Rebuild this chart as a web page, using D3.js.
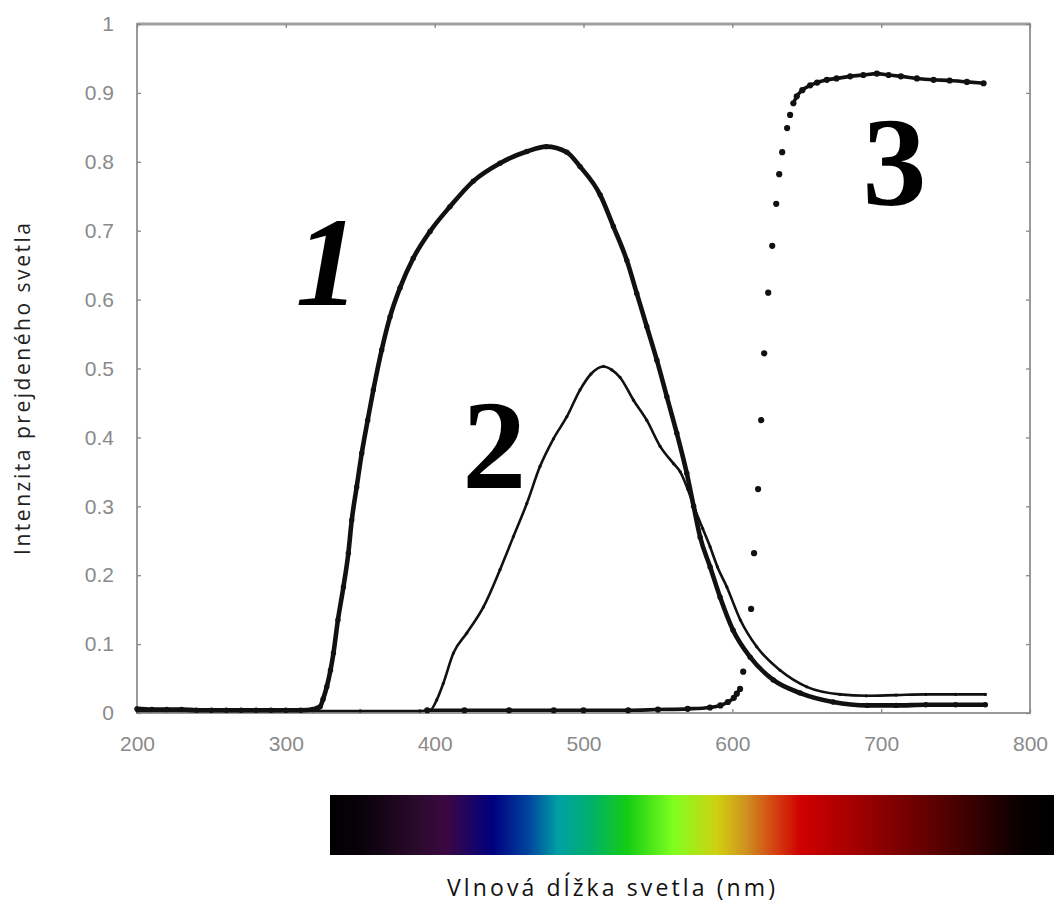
<!DOCTYPE html>
<html><head><meta charset="utf-8">
<script src="https://cdn.jsdelivr.net/npm/d3@7/dist/d3.min.js"></script>
<style>body{margin:0;background:#fff} svg{display:block}</style>
</head><body>
<svg id="c" width="1056" height="904"></svg>
<script>
// ---- data ----
const xTicks = [200, 300, 400, 500, 600, 700, 800];
const yTicks = [0, 0.1, 0.2, 0.3, 0.4, 0.5, 0.6, 0.7, 0.8, 0.9, 1];
const yTickLabels = ["0", "0.1", "0.2", "0.3", "0.4", "0.5", "0.6", "0.7", "0.8", "0.9", "1"];

// curve 1
const wl1 = [200,210,220,230,240,250,260,270,280,290,300,310,318,321,323,325,327.5,330,332,335,338.7,342,344.3,347.6,351,355,358.8,364.4,370,376.7,385.6,396.9,410.3,426,443.9,461.9,475,488.8,497.7,511.2,520.1,529.1,535.8,542.5,549.3,556,562.7,569.4,574,578.4,585.1,591.8,600.5,612,627.5,645.6,667.7,690.6,710,730,750,770];
const t1  = [0.006,0.005,0.005,0.005,0.004,0.004,0.004,0.004,0.004,0.004,0.004,0.004,0.005,0.007,0.009,0.02,0.038,0.062,0.087,0.135,0.183,0.232,0.28,0.328,0.377,0.425,0.469,0.527,0.575,0.617,0.66,0.699,0.735,0.772,0.798,0.815,0.822,0.814,0.793,0.752,0.706,0.657,0.609,0.561,0.512,0.459,0.406,0.348,0.30,0.255,0.212,0.168,0.12,0.081,0.048,0.029,0.016,0.011,0.011,0.012,0.012,0.012];

// curve 2
const wl2 = [200,250,300,350,390,397,401.4,405.8,412.6,421.6,432.8,443.9,452.9,461.9,470.8,479.8,488.8,497.7,505,513.4,519,524.6,533.6,542.5,551.5,560.5,565,570,575,580,585.1,590,596.3,605.4,616.4,632.1,650,672.4,690,710,730,750,770];
const t2  = [0.003,0.003,0.003,0.003,0.003,0.004,0.019,0.043,0.087,0.116,0.154,0.208,0.256,0.304,0.358,0.398,0.43,0.469,0.492,0.503,0.498,0.487,0.454,0.425,0.387,0.362,0.35,0.325,0.295,0.268,0.241,0.212,0.183,0.135,0.096,0.062,0.038,0.027,0.025,0.026,0.027,0.027,0.027];

// curve 3
const wl3 = [395,420,450,480,500,530,550,570,585,592,597,601,603,605.2,607.3,612.6,614.6,617.3,619.4,621.4,624.1,626.8,629.5,631.5,633.5,636.8,638.8,641,643.3,647,652.3,657,663.5,670,679.2,688,697.1,705,713.2,724,735.2,746,757.6,768.8];
const t3  = [0.004,0.004,0.004,0.004,0.004,0.004,0.005,0.006,0.008,0.011,0.016,0.022,0.028,0.035,0.06,0.151,0.232,0.325,0.425,0.522,0.610,0.678,0.739,0.782,0.814,0.849,0.868,0.885,0.895,0.904,0.911,0.915,0.919,0.921,0.924,0.926,0.928,0.926,0.924,0.921,0.919,0.918,0.916,0.914];

const curveNames = ["1", "2", "3"];
const curveLabelX = [328, 440, 709];
const curveLabelY = [0.592, 0.327, 0.737];

const spectrumOffsets = [0, 0.045, 0.12, 0.16, 0.225, 0.275, 0.315, 0.36, 0.41, 0.475, 0.535, 0.575, 0.615, 0.65, 0.73, 0.83, 0.9, 0.955, 1];
const spectrumColors  = ["#000000","#0a020a","#2a0a2c","#3c0842","#000080","#0046a0","#00a0a4","#00b06c","#14cc14","#80ff1e","#d0d010","#d09020","#d44010","#d00000","#a00000","#600000","#300000","#080000","#000000"];

// ---- layout ----
const L = 137, R = 1030, T = 24, B = 713;
const svg = d3.select("#c");

const x = d3.scaleLinear().domain([200, 800]).range([L, R]);
const y = d3.scaleLinear().domain([0, 1]).range([B, T]);

// frame
svg.append("rect").attr("x", L).attr("y", T).attr("width", R - L).attr("height", B - T)
  .attr("fill", "#fff").attr("stroke", "#9a9a9a").attr("stroke-width", 2);
svg.append("line").attr("x1", L).attr("x2", R).attr("y1", T).attr("y2", T)
  .attr("stroke", "#a0a0a0").attr("stroke-width", 3);

const tickFont = "'Liberation Sans', Arial, sans-serif";
function styleAxis(g) {
  g.select(".domain").remove();
  g.selectAll(".tick line").attr("stroke", "#888").attr("stroke-width", 1.3);
  g.selectAll(".tick text").attr("fill", "#8a8a8a").style("font-family", tickFont).style("font-size", "21px");
}
svg.append("g").attr("transform", `translate(${L},0)`)
  .call(d3.axisLeft(y).tickValues(yTicks).tickFormat((d, i) => yTickLabels[i]).tickSizeInner(-4).tickSizeOuter(0).tickPadding(23))
  .call(styleAxis);
svg.append("g").attr("transform", `translate(${R},0)`)
  .call(d3.axisRight(y).tickValues(yTicks).tickFormat("").tickSizeInner(-4).tickSizeOuter(0))
  .call(styleAxis);
svg.append("g").attr("transform", `translate(0,${B})`)
  .call(d3.axisBottom(x).tickValues(xTicks).tickFormat(d3.format("d")).tickSizeInner(-4).tickSizeOuter(0).tickPadding(23))
  .call(styleAxis);
svg.append("g").attr("transform", `translate(0,${T})`)
  .call(d3.axisTop(x).tickValues(xTicks).tickFormat("").tickSizeInner(-4).tickSizeOuter(0))
  .call(styleAxis);

// series
const series = [
  {pts: d3.zip(wl1, t1), w: 4.6, r: 2.7, mode: "line"},
  {pts: d3.zip(wl2, t2), w: 2.6, r: 1.6, mode: "line"},
  {pts: d3.zip(wl3, t3), w: 3.6, r: 3.1, mode: "gap"}
];
const line = d3.line().x(d => x(d[0])).y(d => y(d[1])).curve(d3.curveMonotoneX);
const ink = "#111";
series.forEach(s => {
  const g = svg.append("g");
  if (s.mode === "line") {
    g.append("path").attr("d", line(s.pts)).attr("fill", "none").attr("stroke", ink)
      .attr("stroke-width", s.w).attr("stroke-linejoin", "round").attr("stroke-linecap", "round");
  } else {
    // connect only neighbours that sit close together vertically on screen
    const pieces = [];
    let cur = [s.pts[0]];
    for (let i = 1; i < s.pts.length; i++) {
      const dy = Math.abs(y(s.pts[i][1]) - y(s.pts[i - 1][1]));
      if (dy < 8) cur.push(s.pts[i]); else { pieces.push(cur); cur = [s.pts[i]]; }
    }
    pieces.push(cur);
    pieces.filter(p => p.length > 1).forEach(p => {
      g.append("path").attr("d", line(p)).attr("fill", "none").attr("stroke", ink)
        .attr("stroke-width", s.w).attr("stroke-linejoin", "round").attr("stroke-linecap", "round");
    });
  }
  g.selectAll("circle").data(s.pts).join("circle")
    .attr("cx", d => x(d[0])).attr("cy", d => y(d[1])).attr("r", s.r).attr("fill", ink);
});

// hand-written curve numbers
curveNames.forEach((n, i) => {
  svg.append("text").attr("x", x(curveLabelX[i])).attr("y", y(curveLabelY[i]))
    .attr("text-anchor", "middle")
    .style("font-family", "'Liberation Serif', 'DejaVu Serif', serif")
    .style("font-weight", "bold").style("font-style", i === 0 ? "italic" : "normal")
    .style("font-size", "128px").attr("fill", "#000").text(n);
});

// y label
svg.append("text").attr("transform", "translate(30,389) rotate(-90)")
  .attr("text-anchor", "middle")
  .style("font-family", "'Open Sans', sans-serif").style("font-size", "21px")
  .attr("fill", "#222").attr("textLength", 332).attr("lengthAdjust", "spacing")
  .text("Intenzita prejdeného svetla");

// spectrum bar
const defs = svg.append("defs");
const grad = defs.append("linearGradient").attr("id", "spec").attr("x1", "0%").attr("x2", "100%");
grad.selectAll("stop").data(d3.zip(spectrumOffsets, spectrumColors)).join("stop")
  .attr("offset", d => d[0]).attr("stop-color", d => d[1]);
svg.append("rect").attr("x", 330).attr("y", 795).attr("width", 724).attr("height", 60)
  .attr("fill", "url(#spec)");

// x label
svg.append("text").attr("x", 611).attr("y", 896).attr("text-anchor", "middle")
  .style("font-family", "'Open Sans', sans-serif").style("font-size", "23px")
  .attr("fill", "#111").attr("textLength", 328).attr("lengthAdjust", "spacing")
  .text("Vlnová dĺžka svetla (nm)");
</script>
</body></html>
